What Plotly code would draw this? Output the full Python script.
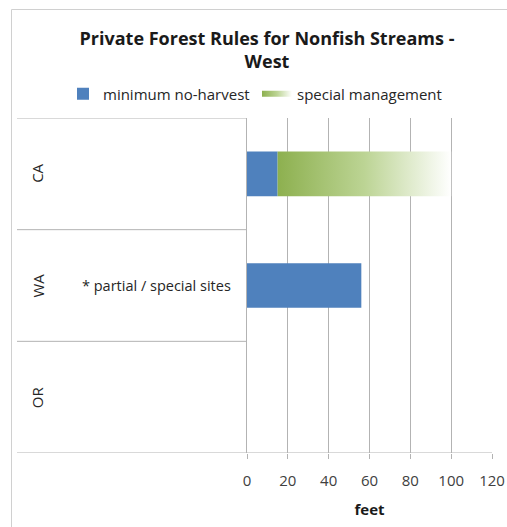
import plotly.graph_objects as go

categories = ["OR", "WA", "CA"]          # bottom to top
no_harvest = [0, 56, 15]
special_mgmt = [0, 0, 85]
x_ticks = [0, 20, 40, 60, 80, 100, 120]
note_text = "* partial / special sites"
note_category = "WA"

W, H = 507, 527
L, R, T = 247, 15, 118
B = H - 453
pw = W - L - R
ph = H - T - B

def px_x(p):                # p: page pixel
    return (p - L) / pw

def px_y(p):
    return (H - B - p) / ph

FONT = "'Open Sans', sans-serif"
BLUE = "#4f81bd"
GRID = "#b3b3b3"
TXT = "#262626"
pos = list(range(len(categories)))
half = 0.2

fig = go.Figure()
fig.add_trace(go.Bar(
    y=pos, x=no_harvest, orientation="h", width=2 * half,
    marker=dict(color=BLUE, line=dict(width=0)),
    name="minimum no-harvest", legend="legend",
))

# special management segments as gradient-filled polygons
xs, ys = [], []
for p, b, v in zip(pos, no_harvest, special_mgmt):
    if v > 0:
        xs += [b, b + v, b + v, b, b, None]
        ys += [p - half, p - half, p + half, p + half, p - half, None]
fig.add_trace(go.Scatter(
    x=xs, y=ys, mode="none", fill="toself",
    fillgradient=dict(type="horizontal",
                      colorscale=[[0, "#8db04f"], [0.5, "#bcd494"], [1, "#ffffff"]]),
    name="special management", legend="legend2",
))

shapes = []
for k in range(len(categories) + 1):
    yb = k - 0.5
    shapes.append(dict(type="line", xref="paper", yref="y",
                       x0=px_x(17), x1=0 if k > 0 else 1, y0=yb, y1=yb,
                       line=dict(color=GRID, width=1)))
shapes.append(dict(type="rect", xref="paper", yref="paper",
                   x0=px_x(11.5), x1=px_x(540), y0=px_y(9.5), y1=px_y(560),
                   line=dict(color="#d0d0d0", width=1), layer="above"))

annotations = []
for p, c in zip(pos, categories):
    annotations.append(dict(x=px_x(37), y=p, xref="paper", yref="y", text=c,
                            textangle=-90, showarrow=False,
                            font=dict(family=FONT, size=15, color=TXT),
                            xanchor="center", yanchor="middle"))
annotations.append(dict(x=px_x(233), y=categories.index(note_category), xref="paper", yref="y",
                        text=note_text, showarrow=False, xanchor="right", yanchor="middle",
                        font=dict(family=FONT, size=14.5, color=TXT)))

leg_common = dict(orientation="h", yanchor="middle", y=px_y(94), xanchor="left",
                  font=dict(family=FONT, size=15, color=TXT),
                  bgcolor="rgba(0,0,0,0)", itemwidth=30)

fig.update_layout(
    width=W, height=H,
    margin=dict(l=L, r=R, t=T, b=B, autoexpand=False),
    paper_bgcolor="white", plot_bgcolor="white",
    barmode="overlay",
    title=dict(text="<b>Private Forest Rules for Nonfish Streams -<br>West</b>",
               x=267 / W, xanchor="center", y=1 - 45 / H, yanchor="middle",
               font=dict(family=FONT, size=18, color="#1a1a1a")),
    legend=dict(x=px_x(63), **leg_common),
    legend2=dict(x=px_x(257), **leg_common),
    xaxis=dict(range=[0, 120], tickvals=x_ticks, showgrid=True, gridcolor=GRID, gridwidth=1,
               zeroline=False, showline=False, ticks="outside", ticklen=5, tickcolor=GRID,
               ticklabelstandoff=9,
               tickfont=dict(family=FONT, size=15, color="#404040"),
               title=dict(text="<b>feet</b>", font=dict(family=FONT, size=15, color="#1a1a1a"),
                          standoff=15),
               fixedrange=True),
    yaxis=dict(range=[-0.5, 2.5], showticklabels=False, showgrid=False, zeroline=False,
               showline=True, linecolor=GRID, linewidth=1, ticks="", fixedrange=True),
    shapes=shapes, annotations=annotations,
    showlegend=True,
)

fig.write_html("out.html", config={"displayModeBar": False},
               post_script="document.body.style.margin='0';document.body.style.overflow='hidden';")
